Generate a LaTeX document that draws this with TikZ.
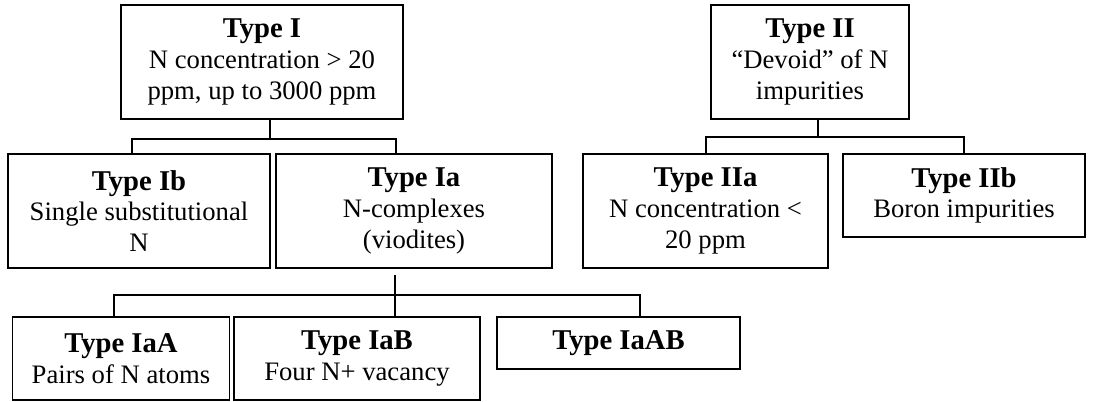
\documentclass[tikz,border=0pt]{standalone}
\usepackage{fontspec}
\setmainfont{Liberation Serif}
\newcommand{\ttl}[1]{{\fontsize{21.5}{23}\selectfont\bfseries #1}}

\begin{document}
\begin{tikzpicture}[x=.75pt,y=-.75pt,
  box/.style={draw,line width=1.1pt,align=center,inner sep=0pt,font=\fontsize{20}{23}\selectfont},
  link/.style={line width=.8pt}]
\useasboundingbox (0,0) rectangle (1101,402);
% type I branch
\node[box,minimum width=211.5pt,minimum height=85.5pt] (I) at (262,62){\ttl{Type I}\\N concentration > 20\\ppm, up to 3000 ppm};
\node[box,minimum width=196.5pt,minimum height=85.5pt] (Ib) at (139,211){\ttl{Type Ib}\\Single substitutional\\N};
\node[box,minimum width=207pt,minimum height=85.5pt] (Ia) at (414,211){\ttl{Type Ia}\\N-complexes\\(viodites)};
\node[box,minimum width=162.75pt,minimum height=62.25pt] (IaA) at (121,358.5){\ttl{Type IaA}\\Pairs of N atoms};
\node[box,minimum width=184.5pt,minimum height=62.25pt] (IaB) at (357,358.5){\ttl{Type IaB}\\Four N+ vacancy};
\node[box,minimum width=182.25pt,minimum height=39pt] (IaAB) at (618.5,343){\ttl{Type IaAB}};
% type II branch
\node[box,minimum width=148.5pt,minimum height=85.5pt] (II) at (810,62){\ttl{Type II}\\``Devoid'' of N\\impurities};
\node[box,minimum width=183.75pt,minimum height=85.5pt] (IIa) at (705.5,211){\ttl{Type IIa}\\N concentration <\\20 ppm};
\node[box,minimum width=181.5pt,minimum height=62.25pt] (IIb) at (964,195.5){\ttl{Type IIb}\\Boron impurities};
% connectors
\coordinate (jI) at (270,139);\coordinate (jIb) at (132,139);\coordinate (jIa) at (396,139);
\draw[link] (I.south -| jI)--(jI);
\draw[link] (Ib.north -| jIb)--(jIb)--(jIa)--(Ia.north -| jIa);
\coordinate (sIa) at (395,275);\coordinate (jIaA) at (114,295);\coordinate (jIaAB) at (640,295);
\draw[link] (sIa)--(IaB.north -| sIa);
\draw[link] (IaA.north -| jIaA)--(jIaA)--(jIaAB)--(IaAB.north -| jIaAB);
\coordinate (jII) at (818,137);\coordinate (jIIa) at (706,137);\coordinate (jIIb) at (964,137);
\draw[link] (II.south -| jII)--(jII);
\draw[link] (IIa.north -| jIIa)--(jIIa)--(jIIb)--(IIb.north -| jIIb);
\end{tikzpicture}
\end{document}
